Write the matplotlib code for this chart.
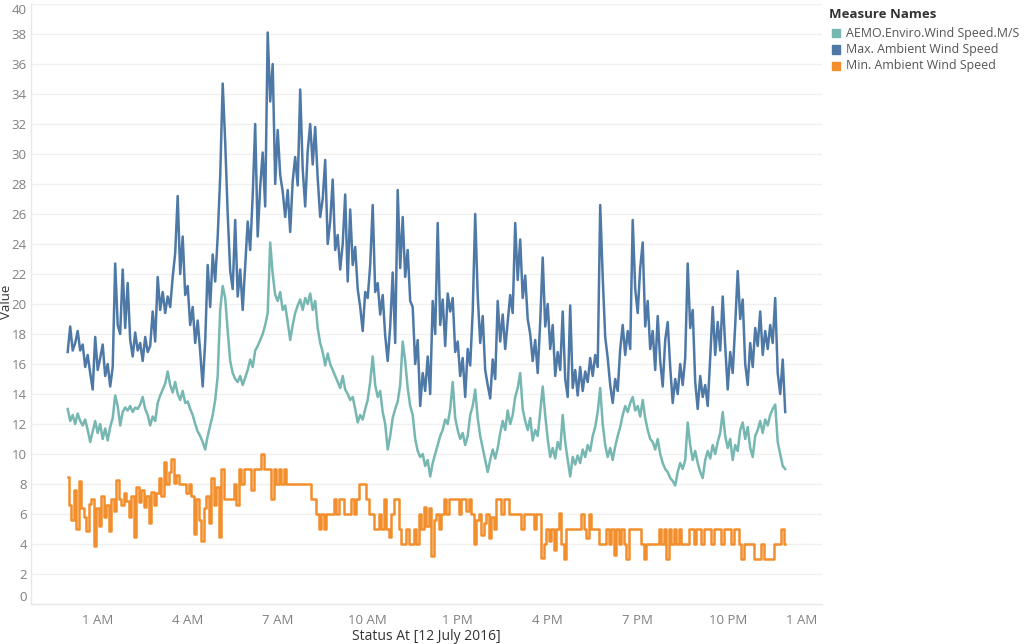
import numpy as np
import matplotlib
matplotlib.use("Agg")
import matplotlib.pyplot as plt
from matplotlib.patches import Rectangle

plt.rcParams['font.family'] = ['Open Sans', 'DejaVu Sans']

# ---------------- data (5-minute samples, 12 July 2016) ----------------
series_names = ["AEMO.Enviro.Wind Speed.M/S",
                "Max. Ambient Wind Speed",
                "Min. Ambient Wind Speed"]
series_colors = ["#76B7B2", "#4E79A7", "#F28E2B"]
sample_minutes = 5

aemo_wind = [
    13.0, 12.2, 12.6, 12.0, 12.7, 12.2, 11.9, 12.3, 11.6, 10.8, 11.5, 12.2,
    11.4, 12.0, 11.0, 11.7, 10.9, 11.8, 12.4, 13.9, 13.2, 11.9, 12.8, 13.1,
    12.9, 13.2, 12.8, 13.1, 13.0, 13.3, 13.8, 13.0, 12.6, 11.9, 12.5, 12.2,
    13.4, 13.9, 14.3, 14.7, 15.5, 14.6, 14.1, 14.8, 14.0, 13.6, 14.2, 13.4,
    13.5, 13.0, 12.6, 12.0, 11.5, 11.2, 10.8, 10.3, 11.2, 11.9, 12.6, 13.6,
    15.2, 19.6, 21.2, 20.4, 18.2, 16.2, 15.4, 15.0, 14.8, 15.2, 14.6, 15.1,
    15.6, 16.3, 15.8, 16.9, 17.2, 17.6, 18.0, 18.6, 19.4, 24.1, 22.0, 20.6,
    20.2, 20.8, 19.6, 19.9, 18.8, 17.6, 18.6, 19.4, 19.9, 20.3, 19.6, 20.4,
    20.0, 20.7, 19.6, 20.2, 18.4, 17.4, 16.8, 15.9, 16.7, 16.0, 15.6, 15.2,
    14.8, 14.4, 15.2, 14.3, 14.0, 13.6, 13.8, 13.0, 12.1, 12.6, 12.3, 13.0,
    13.6, 14.8, 16.5, 14.6, 13.8, 14.2, 12.8, 12.0, 10.3, 11.2, 12.4, 13.0,
    13.5, 14.6, 17.5, 16.2, 14.4, 13.2, 12.6, 11.0, 10.2, 9.8, 10.0, 9.2,
    9.6, 8.5, 9.4, 10.0, 10.6, 11.2, 11.6, 12.3, 12.0, 13.0, 14.8, 12.4,
    11.6, 11.0, 11.4, 10.6, 11.2, 12.6, 13.2, 14.3, 12.4, 11.2, 10.4, 9.6,
    8.8, 9.6, 10.3, 9.7, 10.4, 11.4, 12.2, 11.6, 12.9, 12.0, 12.6, 13.8,
    14.4, 15.4, 13.0, 12.2, 11.6, 12.4, 10.9, 11.6, 11.2, 12.8, 14.5, 12.6,
    11.0, 9.8, 10.4, 9.7, 10.8, 10.3, 12.6, 10.8, 9.6, 8.5, 9.8, 9.3,
    9.9, 9.4, 10.3, 9.8, 10.6, 10.2, 11.2, 11.8, 12.8, 14.4, 12.0, 10.6,
    9.8, 10.4, 9.6, 10.5, 11.2, 11.8, 12.6, 13.2, 12.8, 13.4, 13.8, 12.9,
    13.2, 12.5, 13.6, 12.4, 11.6, 11.0, 10.8, 10.3, 11.0, 10.0, 9.4, 9.0,
    8.8, 8.4, 8.2, 7.9, 8.8, 9.4, 9.0, 9.6, 12.1, 10.6, 9.6, 10.2,
    9.4, 8.8, 8.4, 9.6, 10.2, 9.7, 10.6, 10.0, 10.8, 11.4, 12.8, 11.2,
    10.4, 11.0, 9.6, 10.6, 10.2, 11.6, 12.1, 11.0, 11.8, 10.4, 9.8, 11.2,
    11.6, 12.2, 11.4, 12.3, 11.9, 12.6, 13.0, 13.3, 10.8, 10.0, 9.2, 9.0,
]

max_ambient = [
    16.8, 18.5, 16.9, 17.4, 18.2, 16.9, 17.3, 15.8, 16.6, 15.4, 14.3, 17.8,
    15.6, 16.4, 17.3, 15.2, 16.0, 14.5, 15.8, 22.7, 18.6, 18.0, 22.3, 18.4,
    21.4, 17.6, 16.5, 18.1, 16.9, 17.4, 16.2, 17.8, 16.8, 17.2, 19.5, 17.5,
    21.8, 19.6, 20.8, 19.4, 20.5, 19.8, 21.8, 23.4, 27.2, 22.0, 24.5, 20.6,
    21.2, 18.6, 19.8, 17.4, 18.9, 16.8, 14.5, 17.5, 22.6, 19.8, 23.3, 21.5,
    24.5, 28.5, 34.7, 30.8, 26.0, 22.2, 21.0, 25.6, 20.5, 22.3, 19.6, 22.5,
    25.5, 23.6, 27.2, 32.0, 24.5, 27.8, 30.1, 26.5, 38.1, 33.5, 36.0, 28.0,
    31.6, 28.6, 27.5, 25.8, 27.6, 24.8, 28.2, 29.8, 27.9, 34.3, 29.0, 26.5,
    30.2, 32.0, 29.3, 31.8, 28.4, 25.8, 27.0, 29.6, 24.0, 25.5, 28.3, 23.6,
    24.6, 22.3, 24.0, 27.3, 21.5, 26.3, 22.6, 23.8, 21.0, 19.8, 18.2, 20.8,
    20.4, 22.6, 26.6, 20.8, 21.4, 19.3, 20.6, 17.9, 16.2, 18.5, 22.1, 17.4,
    27.6, 22.4, 25.8, 21.8, 23.6, 20.2, 19.8, 16.0, 17.6, 13.2, 15.4, 14.2,
    16.5, 14.0, 20.2, 18.0, 25.4, 18.6, 20.3, 17.2, 20.7, 19.5, 20.4, 16.8,
    17.5, 15.2, 16.4, 13.8, 17.0, 15.9, 19.5, 26.0, 20.6, 17.4, 19.2, 15.6,
    14.6, 13.7, 16.3, 15.0, 20.2, 17.5, 19.3, 17.0, 18.8, 20.6, 19.4, 25.4,
    21.6, 24.3, 20.4, 21.9, 19.0, 18.0, 16.2, 17.6, 15.4, 18.8, 23.1, 18.5,
    20.0, 17.0, 18.6, 15.2, 16.8, 15.6, 19.5, 15.0, 13.8, 19.9, 14.4, 15.6,
    13.9, 15.8, 14.2, 15.5, 14.8, 16.4, 15.2, 16.6, 15.8, 26.6, 21.8, 17.8,
    16.4, 14.6, 13.4, 15.0, 14.2, 17.0, 18.6, 16.6, 18.2, 17.0, 25.6, 21.0,
    19.4, 22.4, 24.1, 18.5, 20.2, 17.0, 18.2, 15.6, 19.2, 16.2, 14.5, 17.6,
    18.8, 15.8, 13.4, 15.0, 14.0, 16.0, 14.6, 16.4, 22.7, 18.4, 19.6, 14.8,
    13.0, 15.2, 13.8, 14.6, 13.2, 16.4, 19.8, 16.6, 18.8, 16.9, 20.5, 17.2,
    14.3, 16.8, 15.4, 18.6, 22.2, 19.0, 20.3, 16.0, 14.6, 17.4, 15.8, 18.4,
    17.2, 19.5, 16.6, 18.2, 17.0, 18.6, 17.4, 20.4, 15.4, 14.0, 16.3, 12.8,
]

min_ambient = [
    8.5, 6.6, 5.6, 7.6, 5.0, 8.2, 6.4, 5.8, 4.9, 6.7, 7.0, 3.9,
    6.4, 5.2, 7.2, 5.8, 6.6, 4.9, 7.0, 6.2, 8.3, 7.0, 6.6, 7.4,
    6.9, 5.8, 7.2, 4.5, 7.8, 6.8, 7.6, 6.5, 7.2, 5.4, 7.5, 6.6,
    7.4, 8.4, 7.2, 9.5, 8.0, 8.8, 9.7, 8.1, 8.6, 8.0, 8.0, 8.0,
    7.4, 8.0, 7.2, 4.7, 7.0, 5.6, 4.2, 6.4, 7.2, 5.4, 8.4, 6.6,
    7.8, 4.5, 9.0, 7.0, 7.0, 7.0, 7.0, 8.0, 6.6, 9.0, 8.0, 9.0,
    9.0, 9.0, 7.6, 9.0, 9.0, 9.0, 10.0, 9.0, 9.0, 9.0, 7.0, 9.0,
    8.0, 9.0, 8.0, 9.0, 8.0, 8.0, 8.0, 8.0, 8.0, 8.0, 8.0, 8.0,
    8.0, 8.0, 7.0, 7.0, 6.0, 5.0, 6.0, 5.0, 6.0, 6.0, 6.0, 7.0,
    6.0, 7.0, 7.0, 6.0, 6.0, 6.0, 7.0, 6.0, 7.0, 8.0, 8.0, 8.0,
    7.0, 6.0, 6.0, 5.0, 5.0, 6.0, 5.0, 7.0, 5.0, 4.5, 6.0, 7.0,
    7.0, 5.0, 4.0, 4.0, 5.0, 4.0, 4.0, 5.0, 4.0, 6.0, 5.0, 6.5,
    5.2, 6.4, 3.2, 5.6, 6.0, 5.0, 6.0, 7.0, 6.0, 7.0, 7.0, 7.0,
    7.0, 6.0, 7.0, 7.0, 6.2, 7.0, 6.0, 4.0, 5.6, 6.0, 4.6, 5.4,
    6.0, 4.4, 5.8, 5.0, 7.0, 7.0, 6.0, 7.0, 7.0, 6.0, 6.0, 6.0,
    6.0, 6.0, 5.0, 6.0, 6.0, 6.0, 6.0, 5.0, 6.0, 6.0, 3.1, 4.0,
    5.0, 4.2, 5.0, 3.6, 5.0, 6.1, 4.0, 3.0, 5.0, 5.0, 5.0, 5.0,
    5.0, 5.0, 6.0, 5.0, 4.4, 6.0, 5.0, 5.0, 5.0, 4.0, 4.0, 4.0,
    5.0, 4.0, 5.0, 3.3, 5.0, 4.0, 5.0, 4.0, 3.0, 5.0, 5.0, 5.0,
    5.0, 5.0, 4.0, 3.0, 4.0, 4.0, 4.0, 4.0, 4.0, 5.0, 4.0, 5.0,
    3.0, 5.0, 4.0, 5.0, 4.0, 5.0, 4.0, 4.0, 4.0, 5.0, 5.0, 4.0,
    5.0, 5.0, 4.0, 5.0, 5.0, 5.0, 4.0, 5.0, 5.0, 5.0, 4.0, 5.0,
    5.0, 5.0, 4.0, 5.0, 5.0, 4.0, 3.0, 4.0, 4.0, 4.0, 4.0, 3.0,
    3.0, 3.0, 4.0, 3.0, 3.0, 3.0, 3.0, 4.0, 4.0, 4.0, 5.0, 4.0,
]

x_tick_hours = [1, 4, 7, 10, 13, 16, 19, 22, 25]
x_tick_labels = ["1 AM", "4 AM", "7 AM", "10 AM", "1 PM", "4 PM", "7 PM", "10 PM", "1 AM"]
y_ticks = list(range(0, 41, 2))
x_title = "Status At [12 July 2016]"
y_title = "Value"
legend_title = "Measure Names"

# ---------------- figure ----------------
W, H = 1024, 644
fig = plt.figure(figsize=(W / 100, H / 100), dpi=100)
ax = fig.add_axes([31 / W, 40 / H, 791 / W, 600 / H])

all_series = [aemo_wind, max_ambient, min_ambient]
draw_styles = ['default', 'default', 'steps-mid']
for vals, name, col, ds in zip(all_series, series_names, series_colors, draw_styles):
    hours = np.arange(len(vals)) * sample_minutes / 60.0
    ax.plot(hours, vals, color=col, lw=1.8, label=name, drawstyle=ds)

ax.set_xlim(-1.223, 25.143)
ax.set_ylim(0, 40)
ax.set_yticks(y_ticks)
ax.set_yticklabels([str(t) for t in y_ticks])
ax.set_xticks(x_tick_hours)
ax.set_xticklabels(x_tick_labels)
ax.grid(axis='y', color='#f0f0f0', lw=1.0)
ax.set_axisbelow(True)
ax.tick_params(axis='both', length=0, labelsize=9.5, labelcolor='#808080')
ax.tick_params(axis='y', pad=3)
ax.tick_params(axis='x', pad=7)
for s in ['top', 'right']:
    ax.spines[s].set_visible(False)
for s in ['left', 'bottom']:
    ax.spines[s].set_color('#e8e8e8')
    ax.spines[s].set_linewidth(1.0)

ylabels = ax.get_yticklabels()
ylabels[-1].set_va('top')
ylabels[0].set_va('bottom')
xlabels = ax.get_xticklabels()
xlabels[-1].set_ha('right')

fig.text(426 / W, 1 - 636 / H, x_title, ha='center', va='center',
         fontsize=10, color='#333333')
fig.text(7 / W, 1 - 302 / H, y_title, ha='center', va='center',
         rotation=90, fontsize=9.5, color='#333333')

# legend
fig.text(829 / W, 1 - 14 / H, legend_title, ha='left', va='center',
         fontsize=9.5, fontweight='bold', color='#333333')
for i, (name, col) in enumerate(zip(series_names, series_colors)):
    yc = 33 + i * 16.5
    fig.patches.append(Rectangle((832 / W, 1 - (yc + 4) / H), 8 / W, 8 / H,
                                 transform=fig.transFigure, color=col))
    fig.text(846 / W, 1 - yc / H, name, ha='left', va='center',
             fontsize=8.9, color='#555555')

fig.savefig("out.png", dpi=100)
